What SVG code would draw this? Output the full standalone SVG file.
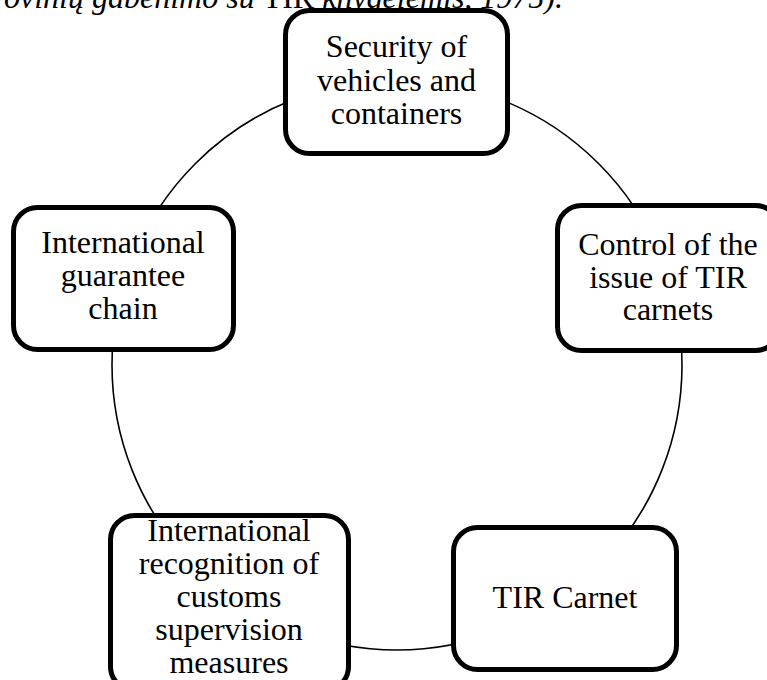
<svg xmlns="http://www.w3.org/2000/svg" width="767" height="680" viewBox="0 0 767 680">
<style>
.box{fill:#fff;stroke:#000;stroke-width:5}
.lbl{font-family:"Liberation Serif","Times New Roman",serif;font-size:32px;fill:#000;text-anchor:middle}
.head{font-family:"Liberation Serif","Times New Roman",serif;font-size:32px;fill:#000;font-style:italic}
.ring{fill:none;stroke:#000;stroke-width:1.6}
</style>
<rect width="767" height="680" fill="#fff"/>
<text class="head" x="4" y="8">ovinių gabenimo su <tspan font-style="normal">TIR</tspan> knygelėmis, 1975).</text>
<g id="connectors">
<circle class="ring" cx="397" cy="365" r="285"/>
</g>
<g id="node-security">
<rect class="box" x="285.5" y="10.5" width="222" height="143" rx="24"/>
<text class="lbl" x="396.5" y="57">Security of</text>
<text class="lbl" x="396.5" y="91">vehicles and</text>
<text class="lbl" x="396.5" y="124">containers</text>
</g>
<g id="node-control">
<rect class="box" x="557.5" y="205.5" width="222" height="145" rx="24"/>
<text class="lbl" x="668" y="255">Control of the</text>
<text class="lbl" x="668" y="288">issue of TIR</text>
<text class="lbl" x="668" y="320">carnets</text>
</g>
<g id="node-carnet">
<rect class="box" x="453.5" y="527.5" width="223" height="142" rx="24"/>
<text class="lbl" x="565" y="608">TIR Carnet</text>
</g>
<g id="node-recognition">
<rect class="box" x="110.5" y="515.5" width="238" height="175" rx="24"/>
<text class="lbl" x="229" y="541">International</text>
<text class="lbl" x="229" y="574">recognition of</text>
<text class="lbl" x="229" y="607">customs</text>
<text class="lbl" x="229" y="640">supervision</text>
<text class="lbl" x="229" y="673">measures</text>
</g>
<g id="node-guarantee">
<rect class="box" x="13.5" y="207.5" width="220" height="142" rx="24"/>
<text class="lbl" x="123" y="253">International</text>
<text class="lbl" x="123" y="286">guarantee</text>
<text class="lbl" x="123" y="319">chain</text>
</g>
</svg>
